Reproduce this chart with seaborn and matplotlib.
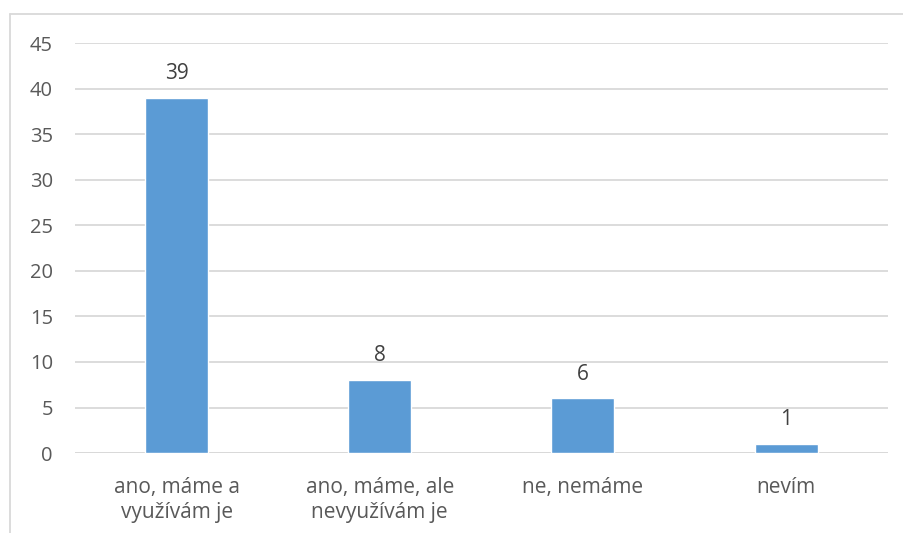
import matplotlib
matplotlib.use("Agg")
import matplotlib.pyplot as plt
from matplotlib.lines import Line2D
import seaborn as sns
import pandas as pd

categories = ["ano, máme a\nvyužívám je", "ano, máme, ale\nnevyužívám je", "ne, nemáme", "nevím"]
counts = [39, 8, 6, 1]
y_ticks = [0, 5, 10, 15, 20, 25, 30, 35, 40, 45]

bar_color = "#5B9BD5"
grid_color = "#D9D9D9"
text_color = "#595959"

sns.set_theme(style="white")
plt.rcParams["font.family"] = ["Open Sans", "DejaVu Sans"]

df = pd.DataFrame({"kategorie": categories, "pocet": counts})

fig = plt.figure(figsize=(9.04, 5.33), dpi=100)
ax = fig.add_axes([0.083, 0.150, 0.899, 0.769])

sns.barplot(data=df, x="kategorie", y="pocet", color=bar_color, width=0.31,
            saturation=1, ax=ax, zorder=3)

ax.set_ylim(0, 45)
ax.set_yticks(y_ticks)
ax.yaxis.grid(True, color=grid_color, linewidth=1.3, zorder=0)
ax.set_axisbelow(True)
for s in ax.spines.values():
    s.set_visible(False)
ax.axhline(0, color=grid_color, linewidth=1.3, zorder=2)

ax.set_xlabel("")
ax.set_ylabel("")
ax.tick_params(axis="y", length=0, pad=16, labelsize=14.5, labelcolor=text_color)
ax.tick_params(axis="x", length=0, pad=17, labelsize=15, labelcolor=text_color)
for lbl in ax.get_xticklabels():
    lbl.set_linespacing(1.3)

for container in ax.containers:
    ax.bar_label(container, labels=[str(v) for v in counts], padding=10,
                 fontsize=15, color="#404040")

# chart area frame (top and left edges)
fig.add_artist(Line2D([10 / 904, 1.0], [1 - 14 / 533, 1 - 14 / 533],
                      transform=fig.transFigure, color=grid_color, linewidth=1.3))
fig.add_artist(Line2D([10 / 904, 10 / 904], [0.0, 1 - 14 / 533],
                      transform=fig.transFigure, color=grid_color, linewidth=1.3))

fig.savefig("out.png", dpi=100, facecolor="white")
